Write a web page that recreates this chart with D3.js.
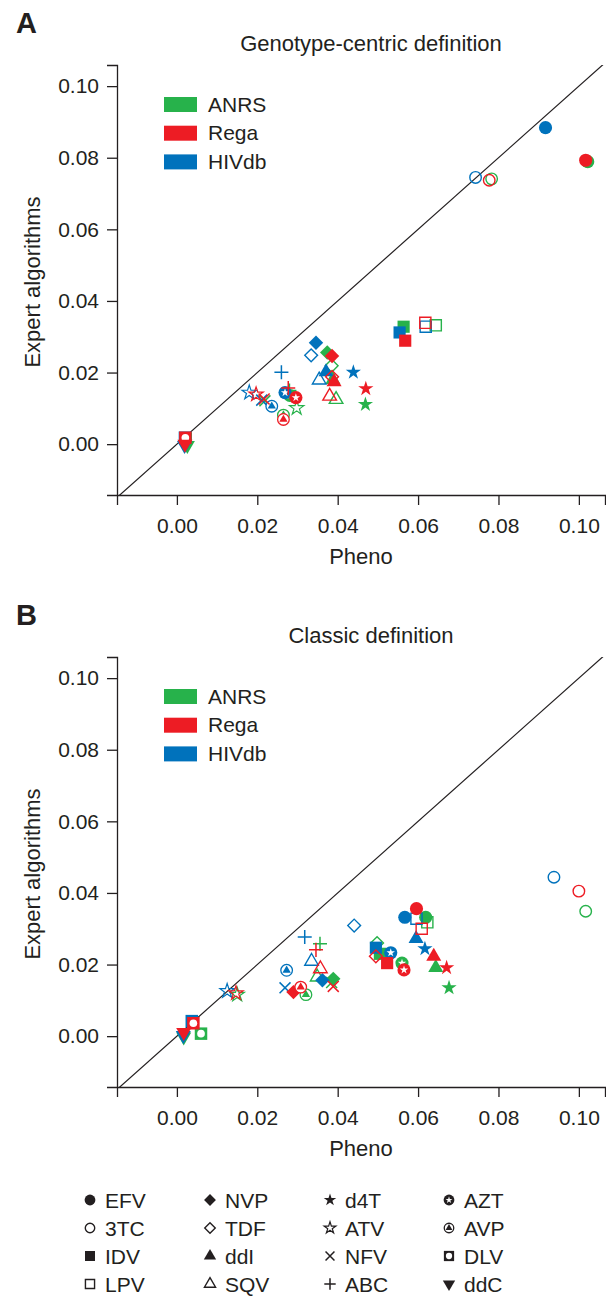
<!DOCTYPE html>
<html lang="en">
<head>
  <meta charset="UTF-8">
  <title>Expert algorithms vs Pheno</title>
  <script src="https://d3js.org/d3.v7.min.js"></script>
  <style>
    body { margin: 0; background: #fff; }
    svg { display: block; font-family: "Liberation Sans", Arial, Helvetica, sans-serif; }
    text { fill: #231f20; }
    .axis text { font-size: 21px; }
    .axis path, .axis line { stroke: #231f20; stroke-width: 1.3; }
  </style>
</head>
<body>
<svg width="606" height="1305"></svg>
<script>
// drug order as in the key
const drugs = ["EFV", "3TC", "IDV", "LPV", "NVP", "TDF", "ddI", "SQV",
               "d4T", "ATV", "NFV", "ABC", "AZT", "AVP", "DLV", "ddC"];
const algorithms = ["ANRS", "Rega", "HIVdb"];
const algoColors = ["#27b24b", "#ed1c24", "#0072bc"];
const tickValues = [0, 0.02, 0.04, 0.06, 0.08, 0.10];

// panel A: genotype-centric definition
const aPhenoANRS  = [0.1022, 0.0783, 0.0564, 0.0644, 0.0374, 0.0385, 0.0388, 0.0396, 0.0469, 0.0298, 0.0219, 0.0280, 0.0281, 0.0265, 0.0022, 0.0026];
const aExpertANRS = [0.0789, 0.0741, 0.0328, 0.0332, 0.0256, 0.0219, 0.0180, 0.0125, 0.0111, 0.0101, 0.0121, 0.0150, 0.0136, 0.0081, 0.0016, -0.0003];
const aPhenoRega  = [0.1017, 0.0777, 0.0568, 0.0618, 0.0386, 0.0386, 0.0391, 0.0380, 0.0470, 0.0197, 0.0217, 0.0277, 0.0296, 0.0265, 0.0021, 0.0020];
const aExpertRega = [0.0793, 0.0737, 0.0289, 0.0339, 0.0246, 0.0188, 0.0174, 0.0134, 0.0155, 0.0139, 0.0126, 0.0157, 0.0130, 0.0069, 0.0018, 0.0000];
const aPhenoHIVdb  = [0.0917, 0.0743, 0.0554, 0.0619, 0.0346, 0.0334, 0.0371, 0.0354, 0.0439, 0.0180, 0.0211, 0.0260, 0.0269, 0.0236, 0.0020, 0.0019];
const aExpertHIVdb = [0.0884, 0.0745, 0.0312, 0.0328, 0.0283, 0.0248, 0.0202, 0.0179, 0.0201, 0.0144, 0.0123, 0.0201, 0.0144, 0.0106, 0.0018, -0.0003];

// panel B: classic definition
const bPhenoANRS  = [0.0619, 0.1017, 0.0505, 0.0623, 0.0389, 0.0498, 0.0644, 0.0349, 0.0677, 0.0150, 0.0385, 0.0356, 0.0560, 0.0321, 0.0060, 0.0017];
const bExpertANRS = [0.0332, 0.0349, 0.0230, 0.0318, 0.0160, 0.0260, 0.0191, 0.0165, 0.0135, 0.0116, 0.0150, 0.0258, 0.0204, 0.0116, 0.0007, -0.0002];
const bPhenoRega  = [0.0596, 0.1000, 0.0523, 0.0609, 0.0290, 0.0495, 0.0639, 0.0357, 0.0671, 0.0147, 0.0389, 0.0346, 0.0565, 0.0308, 0.0041, 0.0017];
const bExpertRega = [0.0356, 0.0405, 0.0204, 0.0300, 0.0123, 0.0223, 0.0223, 0.0188, 0.0191, 0.0120, 0.0139, 0.0241, 0.0185, 0.0137, 0.0036, 0.0011];
const bPhenoHIVdb  = [0.0567, 0.0938, 0.0495, 0.0596, 0.0362, 0.0441, 0.0595, 0.0335, 0.0617, 0.0125, 0.0269, 0.0318, 0.0532, 0.0273, 0.0037, 0.0016];
const bExpertHIVdb = [0.0332, 0.0444, 0.0247, 0.0328, 0.0156, 0.0309, 0.0272, 0.0209, 0.0244, 0.0126, 0.0135, 0.0277, 0.0233, 0.0184, 0.0042, 0.0002];

const svg = d3.select("svg");
const ink = "#231f20";

// one marker glyph per drug
function marker(g, drug, color, k) {
  k = k || 1;
  const sym = (type, area) => d3.symbol().type(type).size(area * k * k)();
  const timesPath = d3.symbolTimes ? sym(d3.symbolTimes, 80) : "M-5.5,-5.5L5.5,5.5M-5.5,5.5L5.5,-5.5";
  const plusPath = d3.symbolPlus ? sym(d3.symbolPlus, 66) : "M-7,0L7,0M0,-7L0,7";
  const add = d => g.append("path").attr("d", d);
  switch (drug) {
    case "EFV": add(sym(d3.symbolCircle, 136)).attr("fill", color); break;
    case "3TC": add(sym(d3.symbolCircle, 104)).attr("fill", "none").attr("stroke", color).attr("stroke-width", 1.4); break;
    case "IDV": add(sym(d3.symbolSquare, 148)).attr("fill", color); break;
    case "LPV": add(sym(d3.symbolSquare, 124)).attr("fill", "none").attr("stroke", color).attr("stroke-width", 1.4); break;
    case "NVP": add(sym(d3.symbolSquare, 104)).attr("fill", color).attr("transform", "rotate(45)"); break;
    case "TDF": add(sym(d3.symbolSquare, 82)).attr("fill", "none").attr("stroke", color).attr("stroke-width", 1.4).attr("transform", "rotate(45)"); break;
    case "ddI": add(sym(d3.symbolTriangle, 98)).attr("fill", color); break;
    case "SQV": add(sym(d3.symbolTriangle, 80)).attr("fill", "none").attr("stroke", color).attr("stroke-width", 1.4); break;
    case "d4T": add(sym(d3.symbolStar, 72)).attr("fill", color); break;
    case "ATV": add(sym(d3.symbolStar, 64)).attr("fill", "none").attr("stroke", color).attr("stroke-width", 1.2); break;
    case "NFV": add(timesPath).attr("fill", "none").attr("stroke", color).attr("stroke-width", 1.5); break;
    case "ABC": add(plusPath).attr("fill", "none").attr("stroke", color).attr("stroke-width", 1.5); break;
    case "AZT":
      add(sym(d3.symbolCircle, 136)).attr("fill", color);
      add(sym(d3.symbolStar, 22)).attr("fill", "#fff");
      break;
    case "AVP":
      add(sym(d3.symbolCircle, 106)).attr("fill", "#fff").attr("stroke", color).attr("stroke-width", 1.3);
      add(sym(d3.symbolTriangle, 30)).attr("fill", color);
      break;
    case "DLV":
      add(sym(d3.symbolSquare, 156)).attr("fill", color);
      add(sym(d3.symbolCircle, 46)).attr("fill", "#fff");
      break;
    case "ddC": add(sym(d3.symbolTriangle, 98)).attr("fill", color).attr("transform", "rotate(180)"); break;
  }
}

function panel(cfg) {
  const x = d3.scaleLinear().domain([-0.0149, 0.1065]).range([117, 605]);
  const y = d3.scaleLinear().domain([-0.0142, 0.1059]).range([cfg.top + 430, cfg.top]);
  const g = svg.append("g");

  const clipId = "clip" + cfg.letter;
  g.append("clipPath").attr("id", clipId)
    .append("rect").attr("x", 117).attr("y", cfg.top).attr("width", 488).attr("height", 430);

  // y = x reference line
  g.append("line")
    .attr("clip-path", `url(#${clipId})`)
    .attr("x1", x(-0.03)).attr("y1", y(-0.03))
    .attr("x2", x(0.15)).attr("y2", y(0.15))
    .attr("stroke", ink).attr("stroke-width", 1.2);

  g.append("g").attr("class", "axis")
    .attr("transform", `translate(0,${cfg.top + 430})`)
    .call(d3.axisBottom(x).tickValues(tickValues).tickFormat(d3.format(".2f"))
      .tickSizeOuter(0).tickSize(10).tickPadding(13));

  g.append("g").attr("class", "axis")
    .attr("transform", "translate(117,0)")
    .call(d3.axisLeft(y).tickValues(tickValues).tickFormat(d3.format(".2f"))
      .tickSizeOuter(0).tickSize(10).tickPadding(8));

  g.selectAll(".axis text").attr("fill", ink);

  // panel letter, title, axis titles
  g.append("text").attr("x", 16).attr("y", cfg.top - 32)
    .attr("font-size", 29).attr("font-weight", "bold").text(cfg.letter);
  g.append("text").attr("x", 371).attr("y", cfg.top - 14)
    .attr("text-anchor", "middle").attr("font-size", 22).text(cfg.title);
  g.append("text").attr("x", 361).attr("y", cfg.top + 499)
    .attr("text-anchor", "middle").attr("font-size", 22).text("Pheno");
  g.append("text")
    .attr("transform", `translate(40,${cfg.top + 217}) rotate(-90)`)
    .attr("text-anchor", "middle").attr("font-size", 22).text("Expert algorithms");

  // colour key
  algorithms.forEach((a, i) => {
    const yy = cfg.top + 32 + i * 28.7;
    g.append("rect").attr("x", 164).attr("y", yy).attr("width", 33).attr("height", 15)
      .attr("fill", algoColors[i]);
    g.append("text").attr("x", 208).attr("y", yy + 14.5).attr("font-size", 21).text(a);
  });

  // points: ANRS, then HIVdb, then Rega on top
  [0, 2, 1].forEach(ai => {
    const px = cfg.pheno[ai], ey = cfg.expert[ai];
    drugs.forEach((d, i) => {
      const m = g.append("g").attr("transform", `translate(${x(px[i])},${y(ey[i])})`);
      marker(m, d, algoColors[ai]);
    });
  });
}

panel({ letter: "A", top: 65, title: "Genotype-centric definition",
        pheno: [aPhenoANRS, aPhenoRega, aPhenoHIVdb],
        expert: [aExpertANRS, aExpertRega, aExpertHIVdb] });
panel({ letter: "B", top: 657, title: "Classic definition",
        pheno: [bPhenoANRS, bPhenoRega, bPhenoHIVdb],
        expert: [bExpertANRS, bExpertRega, bExpertHIVdb] });

// drug key at the bottom: 4 columns x 4 rows
const keyCols = [90, 210, 330, 449];
const keyRows = [1200, 1228, 1256, 1284];
const key = svg.append("g");
drugs.forEach((d, i) => {
  const c = Math.floor(i / 4), r = i % 4;
  const m = key.append("g").attr("transform", `translate(${keyCols[c]},${keyRows[r]})`);
  marker(m, d, ink, 0.82);
  key.append("text").attr("x", keyCols[c] + 15).attr("y", keyRows[r] + 7.5)
    .attr("font-size", 21).text(d);
});
</script>
</body>
</html>
